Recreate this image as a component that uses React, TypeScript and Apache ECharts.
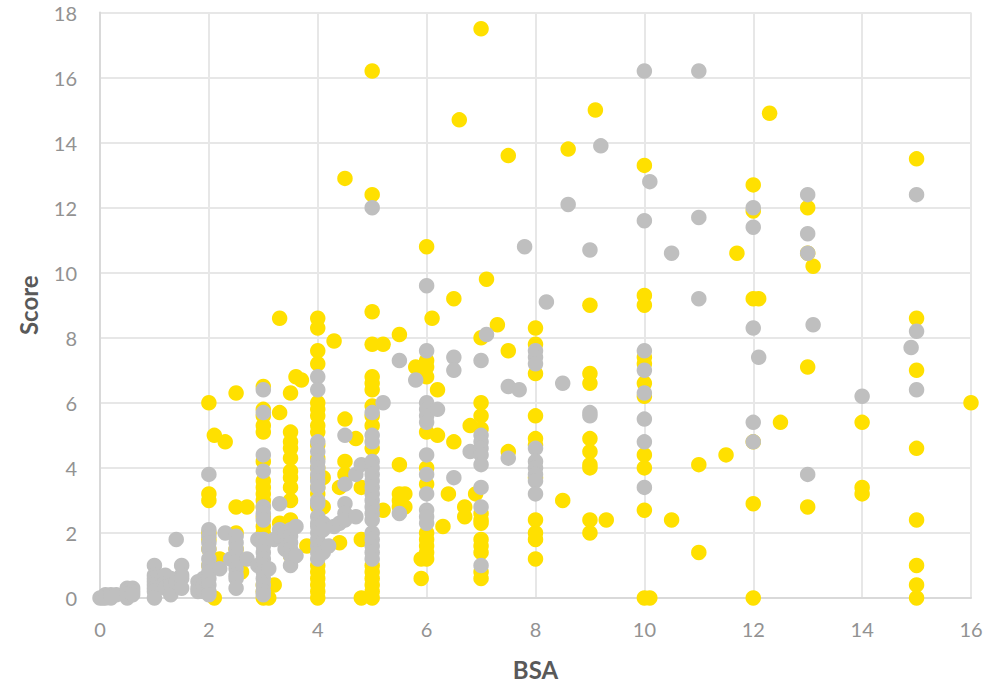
import React, { useEffect, useRef } from "react";
import * as echarts from "echarts";

const xTitle = "BSA";
const yTitle = "Score";
const yellowColumns: [number, number[]][] = [
  [2, [6, 3.2, 3, 2, 1.8, 1.5, 1]], [2.1, [5, 0]], [2.2, [1.2]], [2.3, [4.8]],
  [2.5, [6.3, 2.8, 2, 1.5]], [2.6, [0.8]], [2.7, [2.8]],
  [3, [6.5, 5.8, 5.6, 5.3, 5.1, 4.2, 3.6, 3.4, 3.2, 3, 2.8, 2.5, 2.2, 2, 1.8, 0.4, 0.2, 0]],
  [3.1, [0]], [3.2, [0.4]], [3.3, [8.6, 5.7, 2.3]],
  [3.5, [6.3, 5.1, 4.8, 4.6, 4.3, 3.9, 3.7, 3.4, 3, 2.4, 1.3]],
  [3.6, [6.8]], [3.7, [6.7]], [3.8, [1.6]],
  [4, [8.6, 8.3, 7.6, 7.2, 6, 5.8, 5.6, 5.3, 5.1, 4.7, 4.3, 4, 3.7, 3.4, 3.2, 2.8, 1, 0.8, 0.6, 0.4, 0.2, 0]],
  [4.1, [3.7, 2.8]], [4.3, [7.9]], [4.4, [3.4, 1.7]], [4.5, [12.9, 5.5, 4.2, 3.8]],
  [4.7, [4.9]], [4.8, [3.4, 1.8, 0]],
  [5, [16.2, 12.4, 8.8, 7.8, 6.8, 6.6, 6.4, 5.9, 5.6, 5.3, 4.6, 1, 0.8, 0.6, 0.4, 0.2, 0]],
  [5.2, [7.8, 2.7]], [5.5, [8.1, 4.1, 3.2, 3, 2.8]], [5.6, [3.2, 2.8]],
  [5.8, [7.1]], [5.9, [1.2, 0.6]],
  [6, [10.8, 7.3, 7.1, 6.8, 5.1, 4, 3.5, 2, 1.8, 1.6, 1.4, 1.2]],
  [6.1, [8.6]], [6.2, [6.4, 5]], [6.3, [2.2]], [6.4, [3.2]], [6.5, [9.2, 4.8]], [6.6, [14.7]],
  [6.7, [2.8, 2.5]], [6.8, [5.3]], [6.9, [3.2]],
  [7, [17.5, 8, 6, 5.6, 5.2, 2.6, 2.4, 2.3, 1.8, 1.6, 1.4, 0.8, 0.6]],
  [7.1, [9.8]], [7.3, [8.4]], [7.5, [13.6, 7.6, 4.5]],
  [8, [8.3, 7.8, 6.9, 5.6, 4.9, 4.7, 3.7, 2.4, 2, 1.8, 1.2]],
  [8.5, [3]], [8.6, [13.8]],
  [9, [9, 6.9, 6.6, 4.9, 4.5, 4.1, 4, 2.4, 2]], [9.1, [15]], [9.3, [2.4]],
  [10, [13.3, 9.3, 9, 7.4, 7.2, 6.6, 6.2, 4.4, 4, 2.7, 0]], [10.1, [0]], [10.5, [2.4]],
  [11, [4.1, 1.4]], [11.5, [4.4]], [11.7, [10.6]],
  [12, [12.7, 11.9, 9.2, 4.8, 2.9, 0]], [12.1, [9.2]], [12.3, [14.9]], [12.5, [5.4]],
  [13, [12, 10.6, 7.1, 2.8]], [13.1, [10.2]],
  [14, [5.4, 3.4, 3.2]],
  [15, [13.5, 8.6, 7, 4.6, 2.4, 1, 0.4, 0]], [16, [6]],
];
const grayColumns: [number, number[]][] = [
  [0, [0]], [0.05, [0]], [0.1, [0.1, 0]], [0.2, [0.1, 0]], [0.3, [0.1]],
  [0.5, [0.3, 0.2, 0]], [0.6, [0.3, 0.2, 0.1]],
  [1, [1, 0.7, 0.6, 0.5, 0.4, 0.3, 0.2, 0]], [1.2, [0.7, 0.5, 0.3]], [1.3, [0.6, 0.4, 0.1]],
  [1.4, [1.8, 0.5]], [1.5, [1, 0.7, 0.6, 0.3]],
  [1.8, [0.5, 0.3, 0.2]], [1.9, [0.6, 0.4, 0.2]],
  [2, [3.8, 2.1, 1.9, 1.7, 1.5, 1.2, 1, 0.8, 0.6, 0.4, 0.2, 0.1]], [2.2, [0.9]], [2.3, [2]],
  [2.4, [1.2]], [2.5, [1.9, 1.7, 1.5, 1.3, 1.1, 0.9, 0.7, 0.6, 0.3]], [2.7, [1.2]], [2.9, [1.8, 1]],
  [3, [6.4, 5.7, 4.4, 3.9, 2.8, 2.6, 2.4, 1.8, 1.6, 1.4, 1.2, 1, 0.8, 0.6, 0.4, 0.2, 0.1]],
  [3.1, [0.9]], [3.2, [1.8]], [3.3, [2.9, 2.1, 1.9]], [3.4, [2, 1.5]],
  [3.5, [2.1, 1.9, 1.7, 1.5, 1.3, 1]], [3.6, [2.2, 1.3]],
  [4, [6.8, 6.4, 4.8, 4.5, 4.2, 4, 3.8, 3.6, 3.4, 3, 2.9, 2.5, 2.3, 2.2, 2, 1.8, 1.6, 1.4, 1.2]],
  [4.1, [2.3, 2.1, 1.4]], [4.2, [1.6]], [4.3, [2.2]], [4.4, [2.3]],
  [4.5, [5, 3.5, 2.9, 2.6, 2.4]], [4.7, [3.8, 2.5]], [4.8, [4.1]],
  [5, [12, 5.7, 5, 4.8, 4.2, 4, 3.8, 3.6, 3.4, 3.2, 3, 2.8, 2.6, 2.4, 2, 1.8, 1.6, 1.4, 1.2]],
  [5.2, [6]], [5.5, [7.3, 2.6]], [5.8, [6.7]],
  [6, [9.6, 7.6, 6, 5.8, 5.6, 5.4, 4.4, 3.8, 3.2, 2.7, 2.5, 2.3]],
  [6.2, [5.8]], [6.5, [7.4, 7, 3.7]], [6.8, [4.5]],
  [7, [7.3, 5, 4.8, 4.6, 4.4, 4.1, 3.4, 2.8, 1]], [7.1, [8.1]], [7.5, [6.5, 4.3]], [7.7, [6.4]], [7.8, [10.8]],
  [8, [7.6, 7.4, 7.2, 4.6, 4.2, 4, 3.8, 3.6, 3.2]], [8.2, [9.1]], [8.5, [6.6]], [8.6, [12.1]],
  [9, [10.7, 5.7, 5.6]], [9.2, [13.9]],
  [10, [16.2, 11.6, 7.6, 7, 6.3, 5.5, 4.8, 3.4]], [10.1, [12.8]], [10.5, [10.6]],
  [11, [16.2, 11.7, 9.2]], [12, [12, 11.4, 8.3, 5.4, 4.8]], [12.1, [7.4]],
  [13, [12.4, 11.2, 10.6, 3.8]], [13.1, [8.4]], [14, [6.2]], [14.9, [7.7]],
  [15, [12.4, 8.2, 6.4]],
];

const toPoints = (cols: [number, number[]][]) =>
  cols.flatMap(([x, ys]) => ys.map((y) => [x, y]));

export default function App() {
  const ref = useRef<HTMLDivElement>(null);
  useEffect(() => {
    const chart = echarts.init(ref.current!, undefined, { renderer: "svg" });
    const gridLine = { show: true, lineStyle: { color: "#e7e7e7", width: 2 } };
    const axisLine = { show: true, onZero: false, lineStyle: { color: "#d9d9d9", width: 2 } };
    const tick = { color: "#929292", fontFamily: "Lato", fontSize: 20 };
    const title = { color: "#595959", fontFamily: "Lato", fontSize: 24, fontWeight: "bold" as const };
    chart.setOption({
      animation: false,
      backgroundColor: "#ffffff",
      grid: { left: 100, right: 31, top: 12.5, bottom: 86, outerBoundsMode: "none" },
      xAxis: {
        type: "value", min: 0, max: 16, interval: 2,
        name: xTitle, nameLocation: "middle", nameGap: 59, nameTextStyle: title,
        axisLine, axisTick: { show: false }, splitLine: gridLine,
        axisLabel: { ...tick, margin: 21 },
      },
      yAxis: {
        type: "value", min: 0, max: 18, interval: 2,
        name: yTitle, nameLocation: "middle", nameGap: 60, nameTextStyle: title,
        axisLine, axisTick: { show: false }, splitLine: gridLine,
        axisLabel: { ...tick, margin: 23 },
      },
      series: [
        { type: "scatter", data: toPoints(yellowColumns), symbolSize: 15.5, clip: false, itemStyle: { color: "#ffe000", opacity: 1 } },
        { type: "scatter", data: toPoints(grayColumns), symbolSize: 15.5, clip: false, itemStyle: { color: "#bfbfbf", opacity: 1 } },
      ],
    });
    return () => chart.dispose();
  }, []);
  return <div ref={ref} style={{ position: "absolute", left: 0, top: 0, width: 1002, height: 684 }} />;
}
